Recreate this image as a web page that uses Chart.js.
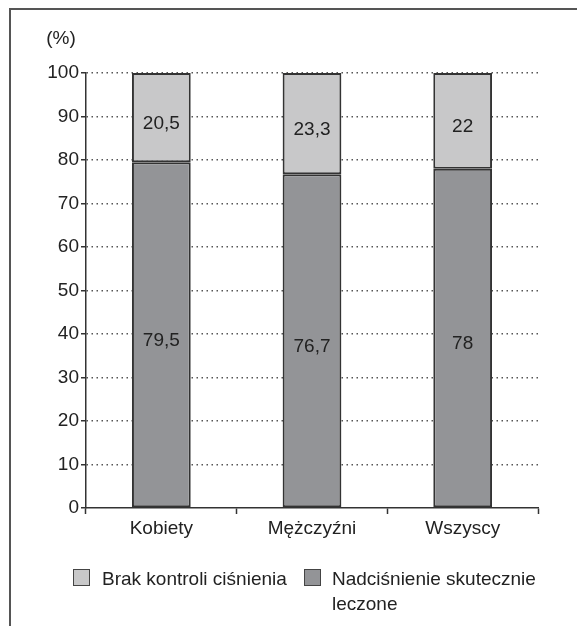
<!DOCTYPE html>
<html>
<head>
<meta charset="utf-8">
<script src="https://cdn.jsdelivr.net/npm/chart.js@4.4.1/dist/chart.umd.min.js"></script>
<style>
  html, body { margin: 0; background: #fff; overflow: hidden; }
  #wrap { position: relative; width: 577px; height: 626px; overflow: hidden; }
  .line { position: absolute; background: #555; pointer-events: none; }
  .leg { position: absolute; font: 19px "Liberation Sans", Arial, sans-serif; color: #222; line-height: 25px; white-space: nowrap; }
  .box { position: absolute; width: 15px; height: 15px; border: 1.5px solid #444; }
  canvas { display: block; }
</style>
</head>
<body>
<div id="wrap">
  <canvas id="chart" width="577" height="626"></canvas>
  <div class="line" style="left:9px; top:8px; width:568px; height:1.5px;"></div>
  <div class="line" style="left:9px; top:8px; width:1.5px; height:618px;"></div>
  <div class="box" style="left:73px; top:569px; background:#c8c8c9;"></div>
  <div class="leg" style="left:102px; top:566px;">Brak kontroli ciśnienia</div>
  <div class="box" style="left:304px; top:569px; background:#939497;"></div>
  <div class="leg" style="left:332px; top:566px;">Nadciśnienie skutecznie<br>leczone</div>
</div>
<script>
// dane
const kategorie = ['Kobiety', 'Mężczyźni', 'Wszyscy'];
const leczone = [79.5, 76.7, 78];
const brakKontroli = [20.5, 23.3, 22];
const yTicks = [0, 10, 20, 30, 40, 50, 60, 70, 80, 90, 100];

const FONT = '"Liberation Sans", Arial, sans-serif';
const SIZE = 19;

// wartosci w srodku slupkow + "(%)"
const etykiety = {
  id: 'etykiety',
  afterDatasetsDraw(chart) {
    const ctx = chart.ctx;
    ctx.save();
    ctx.font = SIZE + 'px ' + FONT;
    ctx.fillStyle = '#222';
    ctx.textAlign = 'center';
    ctx.textBaseline = 'middle';
    chart.data.datasets.forEach((ds, i) => {
      chart.getDatasetMeta(i).data.forEach((el, j) => {
        const txt = String(ds.data[j]).replace('.', ',');
        ctx.fillText(txt, el.x, (el.y + el.base) / 2 + 6);
      });
    });
    ctx.restore();
  },
  afterDraw(chart) {
    const ctx = chart.ctx;
    const a = chart.chartArea;
    ctx.save();
    ctx.font = SIZE + 'px ' + FONT;
    ctx.fillStyle = '#222';
    ctx.textAlign = 'center';
    ctx.textBaseline = 'middle';
    ctx.fillText('(%)', a.left - 25, a.top - 34);
    ctx.restore();
  }
};

function renderChart() {
  const ctx = document.querySelector('#chart').getContext('2d');
  new Chart(ctx, {
    type: 'bar',
    data: {
      labels: kategorie,
      datasets: [
        {
          label: 'Nadciśnienie skutecznie leczone',
          data: leczone,
          backgroundColor: '#939497',
          borderColor: '#333',
          borderWidth: 2,
          borderSkipped: false
        },
        {
          label: 'Brak kontroli ciśnienia',
          data: brakKontroli,
          backgroundColor: '#c8c8c9',
          borderColor: '#333',
          borderWidth: 2,
          borderSkipped: false
        }
      ]
    },
    options: {
      responsive: false,
      animation: false,
      layout: { padding: { left: 0, right: 39, top: 73, bottom: 0 } },
      datasets: { bar: { barPercentage: 0.39, categoryPercentage: 1 } },
      plugins: { legend: { display: false }, tooltip: { enabled: false } },
      scales: {
        x: {
          stacked: true,
          afterFit: (s) => { s.height = 118; },
          border: { display: true, color: '#333', width: 1.5 },
          grid: {
            offset: true,
            drawOnChartArea: false,
            drawTicks: true,
            tickLength: 6,
            tickColor: '#333',
            tickWidth: 1.5
          },
          ticks: { color: '#222', font: { family: FONT, size: SIZE }, padding: 3 }
        },
        y: {
          stacked: true,
          min: 0,
          max: 100,
          afterFit: (s) => { s.width = 86; },
          afterBuildTicks: (s) => { s.ticks = yTicks.map(v => ({ value: v })); },
          border: { display: true, color: '#333', width: 1.5, dash: [1.5, 3.5] },
          grid: {
            color: (c) => c.tick && c.tick.value === 0 ? 'rgba(0,0,0,0)' : '#555',
            lineWidth: 1.5,
            tickColor: '#333',
            tickWidth: 1.5,
            tickBorderDash: [],
            tickLength: 5
          },
          ticks: { color: '#222', font: { family: FONT, size: SIZE }, padding: 2 }
        }
      }
    },
    plugins: [etykiety]
  });
}
renderChart();
</script>
</body>
</html>
